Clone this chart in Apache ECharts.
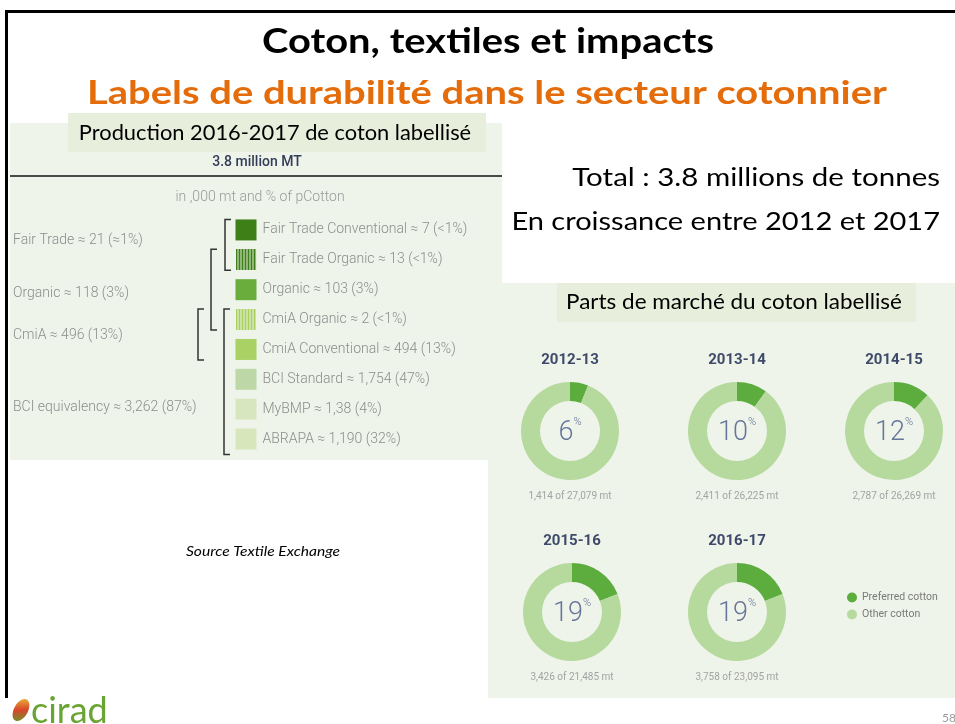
<!DOCTYPE html>
<html><head><meta charset="utf-8">
<script src="https://cdn.jsdelivr.net/npm/echarts@6/dist/echarts.min.js"></script>
<style>html,body{margin:0;padding:0;background:#fff}#c{width:955px;height:724px}</style>
</head><body><div id="c"></div>
<script>
// ---- data ----
const rowNames = ['Fair Trade Conventional','Fair Trade Organic','Organic','CmiA Organic','CmiA Conventional','BCI Standard','MyBMP','ABRAPA'];
const rowAmounts = ['7','13','103','2','494','1,754','1,38','1,190'];
const rowShares = ['<1%','<1%','3%','<1%','13%','47%','4%','32%'];
const groupNames = ['Fair Trade','Organic','CmiA','BCI equivalency'];
const groupAmounts = ['21','118','496','3,262'];
const groupShares = ['≈1%','3%','13%','87%'];
const seasons = ['2012-13','2013-14','2014-15','2015-16','2016-17'];
const preferredShare = [6,10,12,19,19];
const otherShare = [94,90,88,81,81];
const preferredMt = ['1,414','2,411','2,787','3,426','3,758'];
const totalMt = ['27,079','26,225','26,269','21,485','23,095'];

// ---- styles ----
function stripeSymbol(fg, bg){
  const c=document.createElement('canvas'); c.width=21; c.height=21;
  const g=c.getContext('2d'); g.fillStyle=bg; g.fillRect(0,0,21,21); g.fillStyle=fg;
  for(let x=0;x<21;x+=3){ g.fillRect(x,0,2,21); }
  return 'image://'+c.toDataURL();
}
const rowColors = ['#3f7f17', '#3f7f17', '#6aad3d', '#a9d05f', '#a9d164', '#bdd7a7', '#d7e6bf', '#d8e6bc'];
const rowSymbols = ['rect', stripeSymbol('#3f7f17','#e4eedb'), 'rect', stripeSymbol('#a9d05f','#eef4e6'), 'rect','rect','rect','rect'];
const PREF='#5dad3e', OTHER='#b6d99d';
const pieCenters=[[570,431],[737,431],[894,431],[572,612],[737,612]];
const groupY=[240,293,335,407];
const BG='#eef4ea', BOX='#e8eedc';

const chart = echarts.init(document.getElementById('c'), null, {renderer:'canvas'});

function txt(x,y,text,font,fill,align,sx){
  return {type:'text', x, y, scaleX:sx||1, style:{text, fill, font, textAlign:align||'center', textVerticalAlign:'middle'}, silent:true};
}
const gfx = [
  {type:'rect', shape:{x:10,y:123,width:492,height:337}, style:{fill:BG}, z:-5, silent:true},
  {type:'rect', shape:{x:488,y:283,width:467,height:415}, style:{fill:BG}, z:-5, silent:true},
  {type:'rect', shape:{x:502,y:140,width:453,height:142}, style:{fill:'#fff'}, z:-4, silent:true},
  {type:'rect', shape:{x:68,y:113,width:418,height:39}, style:{fill:BOX}, z:-3, silent:true},
  {type:'rect', shape:{x:557,y:283,width:359,height:39}, style:{fill:BOX}, z:-3, silent:true},
  {type:'rect', shape:{x:5,y:10,width:950,height:3}, style:{fill:'#000'}, z:5, silent:true},
  {type:'rect', shape:{x:5,y:10,width:3,height:688}, style:{fill:'#000'}, z:5, silent:true},
  {type:'line', shape:{x1:10,y1:176,x2:502,y2:176}, style:{stroke:'#4a4a4a',lineWidth:2}, silent:true},
  txt(488,42,'Coton, textiles et impacts','bold 35px Lato','#000','center',1.14),
  txt(487,93,'Labels de durabilité dans le secteur cotonnier','bold 33px Lato','#e46c0a','center',1.21),
  txt(275,133,'Production 2016-2017 de coton labellisé','21px Lato','#000','center',1.04),
  txt(257,162,'3.8 million MT','500 14px Roboto','#333c58'),
  txt(260,197,'in ,000 mt and % of pCotton','300 14px Roboto','#9a9a9a'),
  txt(940,178,'Total : 3.8 millions de tonnes','25px Lato','#000','right',1.18),
  txt(940,222,'En croissance entre 2012 et 2017','25px Lato','#000','right',1.16),
  txt(734,302,'Parts de marché du coton labellisé','21px Lato','#000','center',1.07),
  txt(263,552,'Source Textile Exchange','italic 13px Lato','#000','center',1.2),
  {type:'ellipse', shape:{cx:21,cy:710,rx:7,ry:12}, rotation:-0.5, originX:21, originY:710, silent:true,
    style:{fill:new echarts.graphic.LinearGradient(0,0,1,1,[{offset:0,color:'#e8c53a'},{offset:0.5,color:'#d9452b'},{offset:1,color:'#5aa02c'}])}},
  txt(31,711,'cirad','36px Lato','#6aa533','left'),
  txt(942,718,'58','12px Lato','#9a9a9a','left')
];
groupNames.forEach((n,i)=>{
  gfx.push(txt(13,groupY[i],`${n} ≈ ${groupAmounts[i]} (${groupShares[i]})`,'300 14px Roboto','#8d8d8d','left'));
});
seasons.forEach((s,i)=>{
  const [cx,cy]=pieCenters[i];
  gfx.push(txt(cx,cy-71,s,'bold 15px Roboto','#3f4a6a'));
  gfx.push(txt(cx,cy+65.5,`${preferredMt[i]} of ${totalMt[i]} mt`,'10px Roboto','#a3a3a3'));
});

const series = [{
  type:'scatter', symbolSize:21, silent:true,
  itemStyle:{opacity:1},
  data: rowNames.map((n,i)=>({value:[0,n], symbol:rowSymbols[i], itemStyle:{color:rowColors[i], opacity:1}})),
  label:{show:true, position:'right', distance:6, color:'#8d8d8d', fontSize:14, fontFamily:'Roboto', fontWeight:300,
    formatter:p=>`${rowNames[p.dataIndex]} ≈ ${rowAmounts[p.dataIndex]} (${rowShares[p.dataIndex]})`},
  emphasis:{disabled:true}
}];
seasons.forEach((s,i)=>{
  series.push({
    type:'pie', center:pieCenters[i], radius:[30,49], startAngle:90, clockwise:true, silent:true,
    label:{show:false}, labelLine:{show:false}, emphasis:{disabled:true},
    data:[
      {name:'Preferred cotton', value:preferredShare[i], itemStyle:{color:PREF},
        label:{show:true, position:'center', formatter:`{n|${preferredShare[i]}}{p|%}`,
          rich:{n:{fontSize:27, fontWeight:300, fontFamily:'Roboto', color:'#66759a', lineHeight:28, padding:[5,0,0,0]},
                p:{fontSize:11, fontWeight:300, fontFamily:'Roboto', color:'#66759a', verticalAlign:'top', lineHeight:28}}}},
      {name:'Other cotton', value:otherShare[i], itemStyle:{color:OTHER}}
    ]
  });
});

chart.setOption({
  animation:false,
  grid:{left:246, top:215, width:100, height:239},
  xAxis:{type:'value', min:0, max:1, show:false},
  yAxis:{type:'category', data:rowNames, inverse:true, show:false},
  legend:{data:['Preferred cotton','Other cotton'], orient:'vertical', left:842, top:587, icon:'circle',
    itemWidth:10, itemHeight:10, itemGap:6, selectedMode:false,
    textStyle:{fontSize:10.5, color:'#7a7a7a', fontFamily:'Roboto'}},
  graphic:gfx,
  series
});

// brackets derived from row positions
const rowY = rowNames.map(n=>chart.convertToPixel({gridIndex:0},[0,n])[1]);
const H=10.5;
function bracket(x, top, bottom){
  return {type:'polyline', shape:{points:[[x+6,top],[x,top],[x,bottom],[x+6,bottom]]}, style:{stroke:'#333', lineWidth:1.5, fill:null}, silent:true};
}
const br = [
  bracket(225, rowY[0]-H, rowY[1]+H),
  bracket(211, rowY[1]-H, rowY[3]+H),
  bracket(198, rowY[3]-H, rowY[4]+H),
  bracket(224, rowY[3]-H, rowY[7]+H+5)
];
chart.setOption({graphic: gfx.concat(br)});
</script></body></html>
